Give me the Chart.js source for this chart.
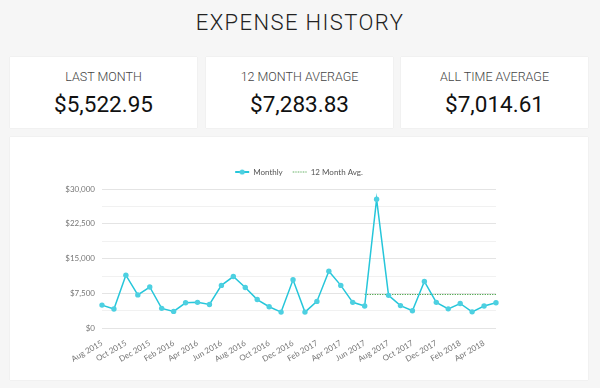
<!DOCTYPE html>
<html>
<head>
<meta charset="utf-8">
<script src="https://cdn.jsdelivr.net/npm/chart.js@4.4.1/dist/chart.umd.min.js"></script>
<style>
  body { margin: 0; background: #f6f6f6; font-family: Roboto, sans-serif; width: 600px; height: 388px; position: relative; overflow: hidden; }
  h1 { position: absolute; top: 10px; left: 0; width: 600px; margin: 0; text-align: center; font-weight: 300; font-size: 22px; letter-spacing: 1.4px; color: #222; line-height: 26px; }
  .card { position: absolute; background: #fff; box-shadow: 0 0 1px rgba(0,0,0,0.12); }
  .stat { top: 57px; height: 71px; width: 187px; text-align: center; }
  .stat .label { position: absolute; top: 12px; width: 100%; font-size: 12.5px; font-weight: 300; color: #444; }
  .stat .value { position: absolute; top: 34px; width: 100%; font-size: 22.5px; color: #111; }
  #chartCard { left: 10px; top: 137px; width: 578px; height: 243px; }
  #wrap { position: absolute; left: 10px; top: 14px; width: 558px; height: 225px; }
</style>
</head>
<body>
<h1>EXPENSE HISTORY</h1>
<div class="card stat" style="left:10px"><div class="label">LAST MONTH</div><div class="value">$5,522.95</div></div>
<div class="card stat" style="left:206px"><div class="label">12 MONTH AVERAGE</div><div class="value">$7,283.83</div></div>
<div class="card stat" style="left:401px"><div class="label">ALL TIME AVERAGE</div><div class="value">$7,014.61</div></div>
<div class="card" id="chartCard"><div id="wrap"><canvas id="myChart"></canvas></div></div>
<script>
let months = ['Aug 2015', 'Sep 2015', 'Oct 2015', 'Nov 2015', 'Dec 2015', 'Jan 2016', 'Feb 2016', 'Mar 2016',
  'Apr 2016', 'May 2016', 'Jun 2016', 'Jul 2016', 'Aug 2016', 'Sep 2016', 'Oct 2016', 'Nov 2016', 'Dec 2016',
  'Jan 2017', 'Feb 2017', 'Mar 2017', 'Apr 2017', 'May 2017', 'Jun 2017', 'Jul 2017', 'Aug 2017', 'Sep 2017',
  'Oct 2017', 'Nov 2017', 'Dec 2017', 'Jan 2018', 'Feb 2018', 'Mar 2018', 'Apr 2018', 'May 2018'];

let monthly = [5000, 4150, 11450, 7200, 8900, 4300, 3650, 5500,
  5600, 5150, 9250, 11150, 8800, 6200, 4650, 3500, 10450,
  3500, 5800, 12300, 9250, 5600, 4800, 27800, 7100, 4900,
  3800, 10100, 5600, 4200, 5350, 3550, 4800, 5522.95];

// 12 month average only over the last 12 months
let avg12 = [null, null, null, null, null, null, null, null,
  null, null, null, null, null, null, null, null, null,
  null, null, null, null, null, 7283.83, 7283.83, 7283.83, 7283.83,
  7283.83, 7283.83, 7283.83, 7283.83, 7283.83, 7283.83, 7283.83, 7283.83];

let yTicks = [0, 3750, 7500, 11250, 15000, 18750, 22500, 26250, 30000];

function legendIcon(color, dotted) {
  //small canvas used as legend point style
  let c = document.createElement('canvas');
  c.width = 16; c.height = 8;
  let g = c.getContext('2d');
  g.strokeStyle = color;
  g.lineWidth = dotted ? 1 : 2;
  if (dotted) g.setLineDash([1.2, 1.3]);
  g.beginPath(); g.moveTo(1, 4); g.lineTo(15, 4); g.stroke();
  if (!dotted) {
    g.fillStyle = '#4dd0e1';
    g.beginPath(); g.arc(8, 4, 2.6, 0, Math.PI * 2); g.fill();
  }
  return c;
}

let icons = [legendIcon('#26c6da', false), legendIcon('#3e9e3e', true)];

function money(v) {
  return '$' + v.toLocaleString('en-US');
}

// leaves a bit more room under the legend
let legendGap = {
  id: 'legendGap',
  afterInit(chart) {
    let fit = chart.legend.fit;
    chart.legend.fit = function () {
      fit.call(this);
      this.height += 3;
    };
  }
};

let ctx = document.getElementById('myChart').getContext('2d');

let expenseChart = new Chart(ctx, {
  type: 'line',
  data: {
    labels: months,
    datasets: [{
      label: 'Monthly',
      data: monthly,
      borderColor: '#26c6da',
      backgroundColor: '#4dd0e1',
      borderWidth: 1.5,
      pointRadius: 2.7,
      pointBorderWidth: 0,
      tension: 0
    }, {
      label: '12 Month Avg.',
      data: avg12,
      borderColor: '#3e9e3e',
      borderWidth: 1.2,
      borderDash: [1.2, 1.3],
      pointRadius: 0,
      fill: false
    }]
  },
  plugins: [legendGap],
  options: {
    responsive: true,
    maintainAspectRatio: false,
    animation: false,
    layout: { padding: { left: 32, right: 82, top: 7, bottom: 10 } },
    plugins: {
      legend: {
        fullSize: false,
        labels: {
          usePointStyle: true,
          pointStyleWidth: 14,
          boxHeight: 8,
          padding: 10,
          color: '#555',
          font: { family: 'Lato', size: 8 },
          generateLabels: (chart) => chart.data.datasets.map((ds, i) => ({
            text: ds.label,
            pointStyle: icons[i],
            datasetIndex: i,
            lineWidth: 0,
            fontColor: '#555'
          }))
        }
      },
      tooltip: { enabled: false }
    },
    scales: {
      x: {
        grid: { display: false },
        border: { display: false },
        ticks: {
          autoSkip: false,
          minRotation: 30,
          maxRotation: 30,
          color: '#777',
          font: { family: 'Lato', size: 8 },
          padding: 2,
          callback: (v, i) => i % 2 === 0 ? months[i] : ''
        }
      },
      y: {
        min: 0,
        max: 30000,
        afterBuildTicks: (axis) => { axis.ticks = yTicks.map(v => ({ value: v })); },
        afterFit: (axis) => { axis.width = 50; },
        border: { display: false },
        grid: {
          drawTicks: false,
          color: (c) => c.tick && c.tick.value % 7500 === 0 ? '#e4e4e4' : '#f1f1f1',
          lineWidth: 1
        },
        ticks: {
          color: '#777',
          font: { family: 'Lato', size: 8 },
          padding: 7,
          callback: (v) => v % 7500 === 0 ? money(v) : ''
        }
      }
    }
  }
});
</script>
</body>
</html>
